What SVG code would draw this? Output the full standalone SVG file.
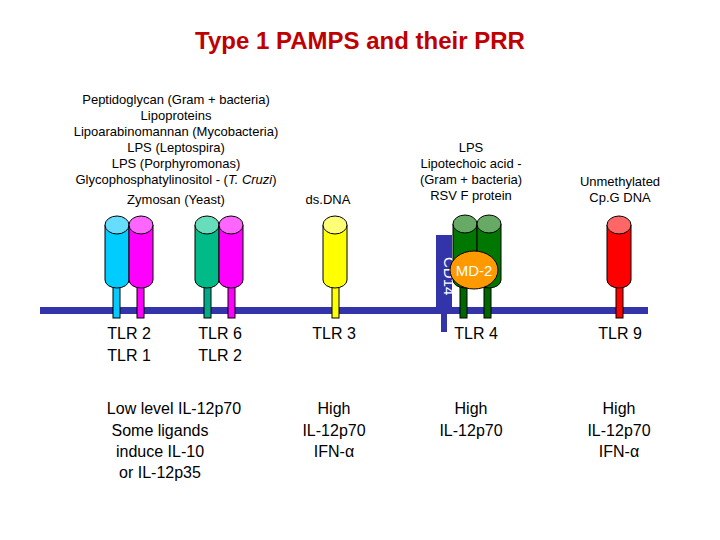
<svg xmlns="http://www.w3.org/2000/svg" width="720" height="540" viewBox="0 0 720 540">
<style>
text{font-family:"Liberation Sans",Arial,sans-serif;fill:#000;text-anchor:middle}
.s{font-size:13px}.m{font-size:16px}
.c{stroke:#000;stroke-width:1}
</style>
<rect width="720" height="540" fill="#fff"/>
<text x="360" y="49" style="font-size:24px;font-weight:bold;fill:#c00000">Type 1 PAMPS and their PRR</text>
<g class="s">
<text x="176" y="104">Peptidoglycan (Gram + bacteria)</text>
<text x="176" y="120">Lipoproteins</text>
<text x="176" y="136">Lipoarabinomannan (Mycobacteria)</text>
<text x="176" y="152">LPS (Leptospira)</text>
<text x="176" y="168">LPS (Porphyromonas)</text>
<text x="176" y="184">Glycophosphatylinositol - (<tspan font-style="italic">T. Cruzi</tspan>)</text>
<text x="176" y="204">Zymosan (Yeast)</text>
<text x="328" y="204">ds.DNA</text>
<text x="471" y="152">LPS</text>
<text x="471" y="168">Lipotechoic acid -</text>
<text x="471" y="184">(Gram + bacteria)</text>
<text x="471" y="200">RSV F protein</text>
<text x="620" y="186">Unmethylated</text>
<text x="620" y="202">Cp.G DNA</text>
</g>
<defs>
<g id="cyl"><rect x="-12" y="-12" width="24" height="75" rx="10" class="c"/></g>
</defs>
<g id="membrane"><rect x="40" y="307" width="608" height="7" fill="#3333aa"/></g>
<g id="tlr2-1">
<rect x="113" y="285" width="7" height="33" fill="#00ccff" class="c"/>
<rect x="137" y="285" width="7" height="33" fill="#ff00ff" class="c"/>
<path d="M105 225 V280 A12 8 0 0 0 129 280 V225" fill="#00ccff" class="c"/>
<ellipse cx="117" cy="225" rx="12" ry="9" fill="#66ddff" class="c"/>
<path d="M129 225 V280 A12 8 0 0 0 153 280 V225" fill="#ff00ff" class="c"/>
<ellipse cx="141" cy="225" rx="12" ry="9" fill="#ff66ff" class="c"/>
</g>
<g id="tlr6-2">
<rect x="204" y="285" width="7" height="33" fill="#00aa88" class="c"/>
<rect x="228" y="285" width="7" height="33" fill="#ff00ff" class="c"/>
<path d="M195 225 V280 A12 8 0 0 0 219 280 V225" fill="#00bb88" class="c"/>
<ellipse cx="207" cy="225" rx="12" ry="9" fill="#66ddbb" class="c"/>
<path d="M219 225 V280 A12 8 0 0 0 243 280 V225" fill="#ff00ff" class="c"/>
<ellipse cx="231" cy="225" rx="12" ry="9" fill="#ff66ff" class="c"/>
</g>
<g id="tlr3">
<rect x="332" y="285" width="7" height="33" fill="#ffff00" class="c"/>
<path d="M323 225 V280 A12 8 0 0 0 347 280 V225" fill="#ffff00" class="c"/>
<ellipse cx="335" cy="225" rx="12" ry="9" fill="#ffff77" class="c"/>
</g>
<g id="tlr4">
<rect x="436" y="235" width="16" height="73" fill="#3333aa"/>
<rect x="441" y="308" width="6" height="24" fill="#3333aa"/>
<text x="444" y="257" transform="rotate(90 444 257)" style="font-size:15px;fill:#fff;text-anchor:start">CD14</text>
<rect x="460" y="285" width="7" height="33" fill="#006600" class="c"/>
<rect x="484" y="285" width="7" height="33" fill="#006600" class="c"/>
<path d="M453 224 V280 A12 8 0 0 0 477 280 V224" fill="#007700" class="c"/>
<ellipse cx="465" cy="224" rx="12" ry="9" fill="#66aa66" class="c"/>
<path d="M477 224 V280 A12 8 0 0 0 501 280 V224" fill="#007700" class="c"/>
<ellipse cx="489" cy="224" rx="12" ry="9" fill="#66aa66" class="c"/>
<ellipse cx="474" cy="270" rx="24" ry="19" fill="#ff9900" class="c"/>
<text x="474" y="276" style="font-size:15px;fill:#fff">MD-2</text>
</g>
<g id="tlr9">
<rect x="616" y="285" width="7" height="33" fill="#ff0000" class="c"/>
<path d="M607 225 V280 A12 8 0 0 0 631 280 V225" fill="#ff0000" class="c"/>
<ellipse cx="619" cy="225" rx="12" ry="9" fill="#ff6666" class="c"/>
</g>
<g class="m">
<text x="129" y="339">TLR 2</text><text x="129" y="361">TLR 1</text>
<text x="220" y="339">TLR 6</text><text x="220" y="361">TLR 2</text>
<text x="334" y="339">TLR 3</text>
<text x="476" y="339">TLR 4</text>
<text x="620" y="339">TLR 9</text>
<text x="174" y="414">Low level IL-12p70</text>
<text x="160" y="436">Some ligands</text>
<text x="160" y="457">induce IL-10</text>
<text x="160" y="478">or IL-12p35</text>
<text x="334" y="414">High</text><text x="334" y="436">IL-12p70</text><text x="334" y="457">IFN-α</text>
<text x="471" y="414">High</text><text x="471" y="436">IL-12p70</text>
<text x="619" y="414">High</text><text x="619" y="436">IL-12p70</text><text x="619" y="457">IFN-α</text>
</g>
</svg>
